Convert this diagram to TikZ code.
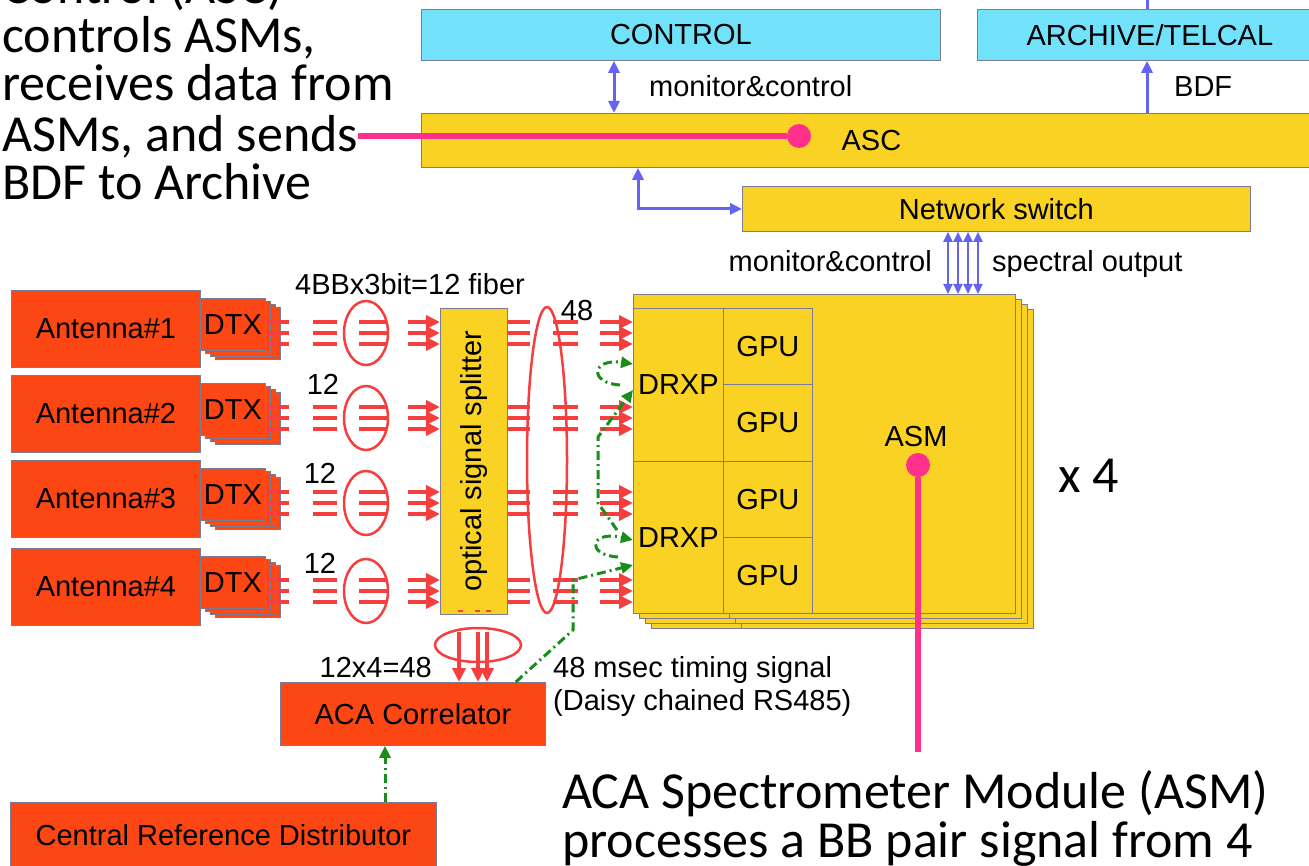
\documentclass[tikz,border=0pt]{standalone}
\usepackage{fontspec}
\setmainfont{Liberation Sans}
\newfontfamily\calfont{Carlito}
\usetikzlibrary{arrows.meta}
\definecolor{acacyan}{RGB}{114,226,250}
\definecolor{acagold}{RGB}{250,210,35}
\definecolor{acared}{RGB}{252,70,20}
\definecolor{edge}{RGB}{120,124,150}
\definecolor{fiber}{RGB}{245,62,62}
\definecolor{mcblue}{RGB}{100,100,240}
\definecolor{tmgreen}{RGB}{25,140,25}
\definecolor{note}{RGB}{255,48,140}

\begin{document}
\begin{tikzpicture}[x=1pt, y=-1pt,
    box/.style={draw=edge, line width=0.8pt, inner sep=0pt, anchor=north west,
                font=\fontsize{29}{34}\selectfont},
    cyanbox/.style={box, fill=acacyan},
    goldbox/.style={box, fill=acagold},
    redbox/.style={box, fill=acared},
    lab/.style={font=\fontsize{29}{34}\selectfont, inner sep=0pt},
    callout/.style={font=\calfont\fontsize{52}{49}\selectfont, inner sep=0pt,
                    anchor=base west},
    mc/.style={draw=mcblue, line width=3pt, >={Triangle[length=12pt,width=11pt]}, <->},
    mcthin/.style={draw=mcblue, line width=2pt, >={Triangle[length=10pt,width=9pt]}, <->},
    fib/.style={draw=fiber, line width=3.5pt},
    fibarr/.style={fib, -{Triangle[length=14pt,width=13pt]}},
    ring/.style={draw=fiber, line width=2.5pt},
    timing/.style={draw=tmgreen, line width=3pt, dash pattern=on 9pt off 4pt on 2pt off 4pt,
                   -{Triangle[length=12pt,width=11pt]}},
    pinkdot/.style={circle, fill=note, minimum size=24pt, inner sep=0pt},
    noteline/.style={draw=note, line width=6pt}]
  \useasboundingbox (0,0) rectangle (1309,866);
  % --- callout on the left ---------------------------------------------------
  \node[callout] (cl0) at (2,4)   {Control (ASC)};
  \node[callout] (cl1) at (2,53)  {controls ASMs,};
  \node[callout] (cl2) at (2,101) {receives data from};
  \node[callout] (cl3) at (2,152) {ASMs, and sends};
  \node[callout] (cl4) at (2,200) {BDF to Archive};
  % --- upper row: CONTROL, ARCHIVE, ASC, switch ------------------------------
  \node[cyanbox, minimum width=519pt, minimum height=51pt] (ctrl) at (421,9)  {CONTROL};
  \node[cyanbox, minimum width=345pt, minimum height=51pt] (arch) at (977,9)  {ARCHIVE/TELCAL};
  \node[goldbox, minimum width=900pt, minimum height=54pt] (asc)  at (421,113) {ASC};
  \node[goldbox, minimum width=508pt, minimum height=45pt] (nsw)  at (742,186) {Network switch};
  \coordinate (mcx)  at (614,0);
  \coordinate (bdfx) at (1147,0);
  \coordinate (nsx)  at (638,0);
  \draw[mc] (ctrl.south -| mcx) -- (asc.north -| mcx);
  \draw[mc, <-] (arch.south -| bdfx) -- (asc.north -| bdfx);
  \draw[draw=mcblue, line width=3pt] (arch.north -| bdfx) -- ++(0,-12);
  \draw[mc] (asc.south -| nsx) |- (nsw.west);
  \node[lab, anchor=base west] (mclab) at (649,97)  {monitor\&control};
  \node[lab, anchor=base west] (bdflab) at (1174,97) {BDF};
  \node[pinkdot] (ascdot) at (799,136) {};
  \draw[noteline] (cl3.east |- ascdot) -- (ascdot);
  % --- the ASM, four deep ------------------------------------------------------
  \foreach \s/\t in {18/15,12/10,6/5} {
    \draw[fill=acagold, draw=edge, line width=0.8pt] (633+\s,294+\t) rectangle (1015+\s,613+\t);
    \draw[draw=edge, line width=0.8pt] (723+\s,461+\t) -- (723+\s,613+\t); }
  \node[goldbox, minimum width=382pt, minimum height=319pt] (asm) at (633,294) {};
  \node[goldbox, minimum width=90pt, minimum height=153pt] (drxp1) at (633,308) {DRXP};
  \node[goldbox, minimum width=90pt, minimum height=152pt] (drxp2) at (633,461) {DRXP};
  \foreach \i in {1,...,4}
    \node[goldbox, minimum width=89pt, minimum height=76.25pt] (gpu\i) at (723,{308+76.25*(\i-1)}) {GPU};
  \node[lab] (asmlab) at (916,437) {ASM};
  \node[pinkdot] (asmdot) at (918,465) {};
  \node[callout] (times) at (1058,492) {x 4};
  \foreach \x in {948,958,968,978}
    \draw[mcthin] (nsw.south -| \x,0) -- (asm.north -| \x,0);
  \node[lab, anchor=base east] (mclab2) at (932,272) {monitor\&control};
  \node[lab, anchor=base west] (speclab) at (992,272) {spectral output};
  % --- optical splitter --------------------------------------------------------
  \node[goldbox, minimum width=67pt, minimum height=306pt] (spl) at (440,308) {};
  \node[lab, rotate=90] (spllab) at (spl.center) {optical signal splitter};
  \foreach \x in {458,475,486} \draw[draw=fiber, line width=1.5pt] (\x,611) -- ++(5,0);
  % --- antennas and their fibre bundles ---------------------------------------
  \foreach \k/\fy in {1/333,2/418,3/503,4/591} {
    \node[redbox, minimum width=189pt, minimum height=77pt] (ant\k) at (11,\fy-43) {Antenna\#\k};
    \foreach \s in {15,10,5}
      \draw[fill=acared, draw=edge, line width=0.6pt] (200+\s,\fy-35+\s*0.6) rectangle (265+\s,\fy+17+\s*0.6);
    \node[redbox, minimum width=65pt, minimum height=52pt] (dtx\k) at (200,\fy-35) {DTX};
    \foreach \dy in {-11,0,11} {
      \draw[fib] (266,\fy+\dy) -- (289,\fy+\dy);
      \draw[fib] (313,\fy+\dy) -- (337,\fy+\dy);
      \draw[fib] (359,\fy+\dy) -- (387,\fy+\dy);
      \draw[fibarr] (408,\fy+\dy) -- (spl.west |- 0,\fy+\dy);
      \draw[fib] (507,\fy+\dy) -- (530,\fy+\dy);
      \draw[fib] (553,\fy+\dy) -- (578,\fy+\dy);
      \draw[fibarr] (600,\fy+\dy) -- (asm.west |- 0,\fy+\dy); }
    \draw[ring] (366,\fy) ellipse [x radius=22pt, y radius=32pt]; }
  \draw[ring] (547,460) ellipse [x radius=20pt, y radius=153pt];
  \node[lab, anchor=base] (fiblab) at (410,295) {4BBx3bit=12 fiber};
  \foreach \k/\bx/\by in {2/323/395,3/320/483,4/320/573}
    \node[lab, anchor=base] (n\k) at (\bx,\by) {12};
  \node[lab, anchor=base] (n48) at (577,321) {48};
  % --- correlator and reference -----------------------------------------------
  \node[redbox, minimum width=265pt, minimum height=63pt] (corr) at (280,682) {ACA Correlator};
  \node[redbox, minimum width=426pt, minimum height=66pt] (crd) at (10,802) {Central Reference Distributor};
  \draw[ring] (478,645) ellipse [x radius=43pt, y radius=17pt];
  \foreach \x in {459,478,487}
    \draw[fibarr] (\x,632) -- (corr.north -| \x,0);
  \node[lab, anchor=base east] (sumlab) at (432,677) {12x4=48};
  \node[lab, anchor=base west] (tlab1) at (553,677) {48 msec timing signal};
  \node[lab, anchor=base west] (tlab2) at (553,710) {(Daisy chained RS485)};
  \coordinate (crdx) at (385,0);
  \draw[timing] (crd.north -| crdx) -- (corr.south -| crdx);
  % timing signal daisy chain
  \draw[timing] ([xshift=-30pt]corr.north east) -- (573,630) -- (573,580) -- (drxp2.west |- 0,565);
  \draw[timing] (618,557) .. controls (585,555) and (590,530) .. (drxp2.west |- 0,540);
  \draw[timing] (617,530) -- (598,503) -- (598,437) -- (drxp1.west |- 0,390);
  \draw[timing] (620,385) .. controls (588,383) and (592,358) .. (drxp1.west |- 0,364);
  % --- callout on the right ---------------------------------------------------
  \node[callout] (cb1) at (562,808) {ACA Spectrometer Module (ASM)};
  \node[callout] (cb2) at (562,857) {processes a BB pair signal from 4};
  \draw[noteline] (asmdot) -- (asmdot |- 0,752);
\end{tikzpicture}
\end{document}
